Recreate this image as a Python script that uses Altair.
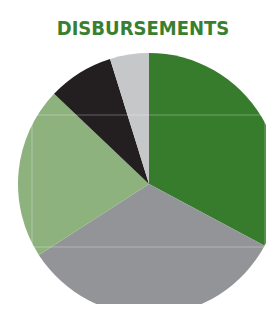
import altair as alt
import pandas as pd

categories = ["A", "B", "C", "D", "E"]
values = [32.8, 33.1, 21.2, 8.1, 4.8]
colors = ["#377c2d", "#939497", "#8db27e", "#231f20", "#c6c7c9"]
title_text = "DISBURSEMENTS"

df = pd.DataFrame({"cat": categories, "val": values, "ord": list(range(len(categories)))})

W, H = 258, 296
cx, cy, R = 141, 176, 131

pie = alt.Chart(df).mark_arc(radius=R, stroke=None).encode(
    theta=alt.Theta("val:Q", stack=True),
    order=alt.Order("ord:Q"),
    color=alt.Color("cat:N", scale=alt.Scale(domain=categories, range=colors), legend=None),
    x=alt.value(cx),
    y=alt.value(cy),
)

frame = alt.Chart(pd.DataFrame({"a": [0]})).mark_rect(
    fill=None, stroke="#ffffff", strokeWidth=1, strokeOpacity=0.3
).encode(
    x=alt.value(24), x2=alt.value(257), y=alt.value(107), y2=alt.value(239)
)

title = alt.Chart(pd.DataFrame({"t": [title_text]})).mark_text(
    font="DejaVu Sans Condensed, Liberation Sans", fontWeight="bold", fontSize=20, color="#3a7f2f",
    align="center", baseline="alphabetic"
).encode(text="t:N", x=alt.value(135), y=alt.value(27))

chart = alt.layer(pie, frame, title).properties(
    width=W, height=H, autosize=alt.AutoSizeParams(type="none"), padding=0
).configure_view(stroke=None)

chart.save("out.html", embed_options={"renderer": "svg", "actions": False})
